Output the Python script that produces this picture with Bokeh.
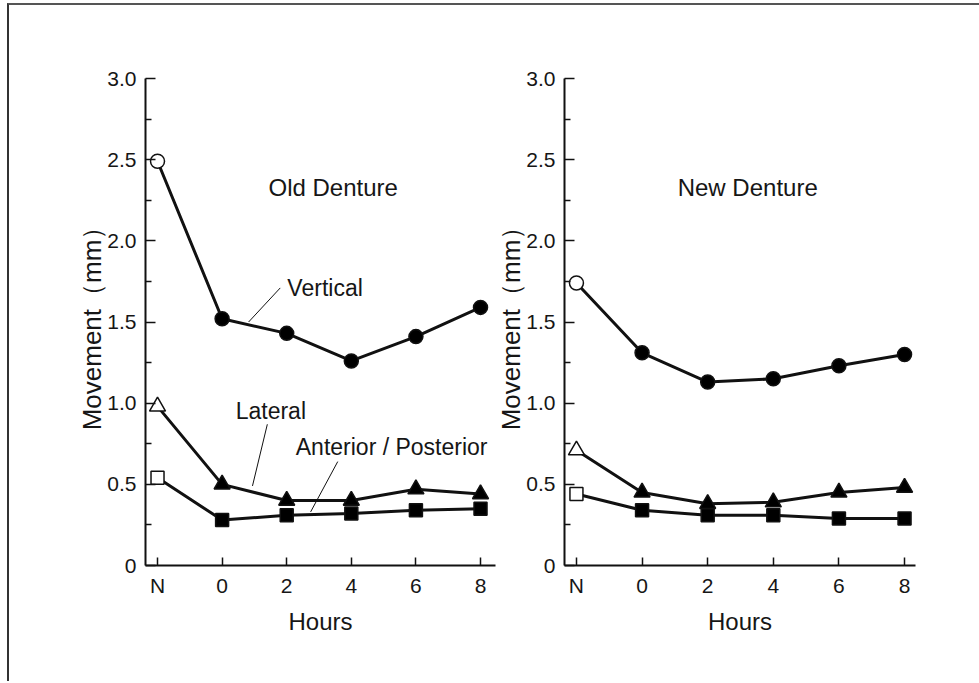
from bokeh.plotting import figure
from bokeh.layouts import row
from bokeh.models import Range1d, FixedTicker, ColumnDataSource, Label
from bokeh.embed import file_html
from bokeh.resources import INLINE

# ---------------- data ----------------
hours = ["N", "0", "2", "4", "6", "8"]

old_vertical = [2.49, 1.52, 1.43, 1.26, 1.41, 1.59]
old_lateral = [0.98, 0.50, 0.40, 0.40, 0.47, 0.44]
old_ap = [0.54, 0.28, 0.31, 0.32, 0.34, 0.35]

new_vertical = [1.74, 1.31, 1.13, 1.15, 1.23, 1.30]
new_lateral = [0.71, 0.45, 0.38, 0.39, 0.45, 0.48]
new_ap = [0.44, 0.34, 0.31, 0.31, 0.29, 0.29]

y_major = [0, 0.5, 1.0, 1.5, 2.0, 2.5, 3.0]
y_minor = [0.25, 0.75, 1.25, 1.75, 2.25, 2.75]
y_labels = ["0", "0.5", "1.0", "1.5", "2.0", "2.5", "3.0"]
y_title = "Movement（mm）"
x_title = "Hours"

FONT = "Liberation Sans"
TXT = "#161616"
INK = "#111111"

xpos = list(range(len(hours)))


def make_panel(width, mb_left, mb_right, mb_bottom, x_lo, x_hi, series, title, title_xy):
    p = figure(width=width, height=678, output_backend="svg", toolbar_location=None,
               x_range=Range1d(x_lo, x_hi), y_range=Range1d(0, 3.0),
               min_border_left=mb_left, min_border_right=mb_right,
               min_border_top=73, min_border_bottom=mb_bottom)
    p.outline_line_color = None
    p.xgrid.visible = False
    p.ygrid.visible = False
    p.background_fill_color = "white"

    # y axis
    ya = p.yaxis[0]
    ya.ticker = FixedTicker(ticks=y_major, minor_ticks=y_minor)
    ya.major_label_overrides = {v: s for v, s in zip(y_major, y_labels)}
    ya.major_tick_in = 10
    ya.major_tick_out = 0
    ya.minor_tick_in = 6
    ya.minor_tick_out = 0
    ya.axis_line_width = 2
    ya.major_tick_line_width = 1.5
    ya.minor_tick_line_width = 1.5
    ya.axis_line_color = INK
    ya.major_tick_line_color = INK
    ya.minor_tick_line_color = INK
    ya.major_label_text_font = FONT
    ya.major_label_text_font_size = "21px"
    ya.major_label_text_color = TXT
    ya.major_label_standoff = 9
    ya.axis_label = y_title
    ya.axis_label_text_font = FONT
    ya.axis_label_text_font_size = "26px"
    ya.axis_label_text_font_style = "normal"
    ya.axis_label_text_color = TXT
    ya.axis_label_standoff = -3

    # x axis
    xa = p.xaxis[0]
    xa.ticker = FixedTicker(ticks=xpos, minor_ticks=[])
    xa.major_label_overrides = {i: h for i, h in zip(xpos, hours)}
    xa.major_tick_in = 8
    xa.major_tick_out = 0
    xa.axis_line_width = 2
    xa.major_tick_line_width = 1.5
    xa.axis_line_color = INK
    xa.major_tick_line_color = INK
    xa.major_label_text_font = FONT
    xa.major_label_text_font_size = "21px"
    xa.major_label_text_color = TXT
    xa.major_label_standoff = 8
    xa.axis_label = x_title
    xa.axis_label_text_font = FONT
    xa.axis_label_text_font_size = "24px"
    xa.axis_label_text_font_style = "normal"
    xa.axis_label_text_color = TXT
    xa.axis_label_standoff = 8

    for vals, marker, size in series:
        src = ColumnDataSource(dict(
            x=xpos, y=vals,
            fill=["white"] + ["black"] * (len(vals) - 1)))
        p.line("x", "y", source=src, line_color=INK, line_width=3)
        p.scatter("x", "y", source=src, marker=marker, size=size,
                  fill_color="fill", line_color=INK, line_width=1.5)

    p.add_layout(Label(x=title_xy[0], y=title_xy[1], text=title, text_font=FONT,
                       text_font_size="24px", text_color=TXT,
                       text_align="center", text_baseline="middle"))
    return p


p1 = make_panel(500, 136, 14, 116, -0.186, 5.232,
                [(old_vertical, "circle", 14), (old_lateral, "triangle", 16), (old_ap, "square", 13)],
                "Old Denture", (2.72, 2.33))
p2 = make_panel(498, 83, 64, 118, -0.182, 5.167,
                [(new_vertical, "circle", 14), (new_lateral, "triangle", 16), (new_ap, "square", 13)],
                "New Denture", (2.61, 2.33))
p1.border_fill_color = "white"
p2.border_fill_color = None

# series name labels with leader lines (left panel)
for txt, (tx, ty) in [("Vertical", (2.01, 1.71)), ("Lateral", (1.21, 0.95)),
                      ("Anterior / Posterior", (2.14, 0.73))]:
    p1.add_layout(Label(x=tx, y=ty, text=txt, text_font=FONT, text_font_size="23px",
                        text_color=TXT, text_align="left", text_baseline="middle"))
for (x0, y0, x1, y1) in [(1.41, 1.50, 1.90, 1.71), (1.70, 0.87, 1.47, 0.49),
                         (2.79, 0.64, 2.37, 0.33)]:
    p1.line([x0, x1], [y0, y1], line_color=INK, line_width=1)

p1.margin = (3, 0, 0, 7)
p1.styles = {"border-top": "2px solid #555555", "border-left": "2px solid #333333"}
p2.margin = (3, 0, 0, -26)
p2.styles = {"border-top": "2px solid #555555"}

layout = row(p1, p2)
open("out.html", "w").write(file_html(layout, INLINE))
